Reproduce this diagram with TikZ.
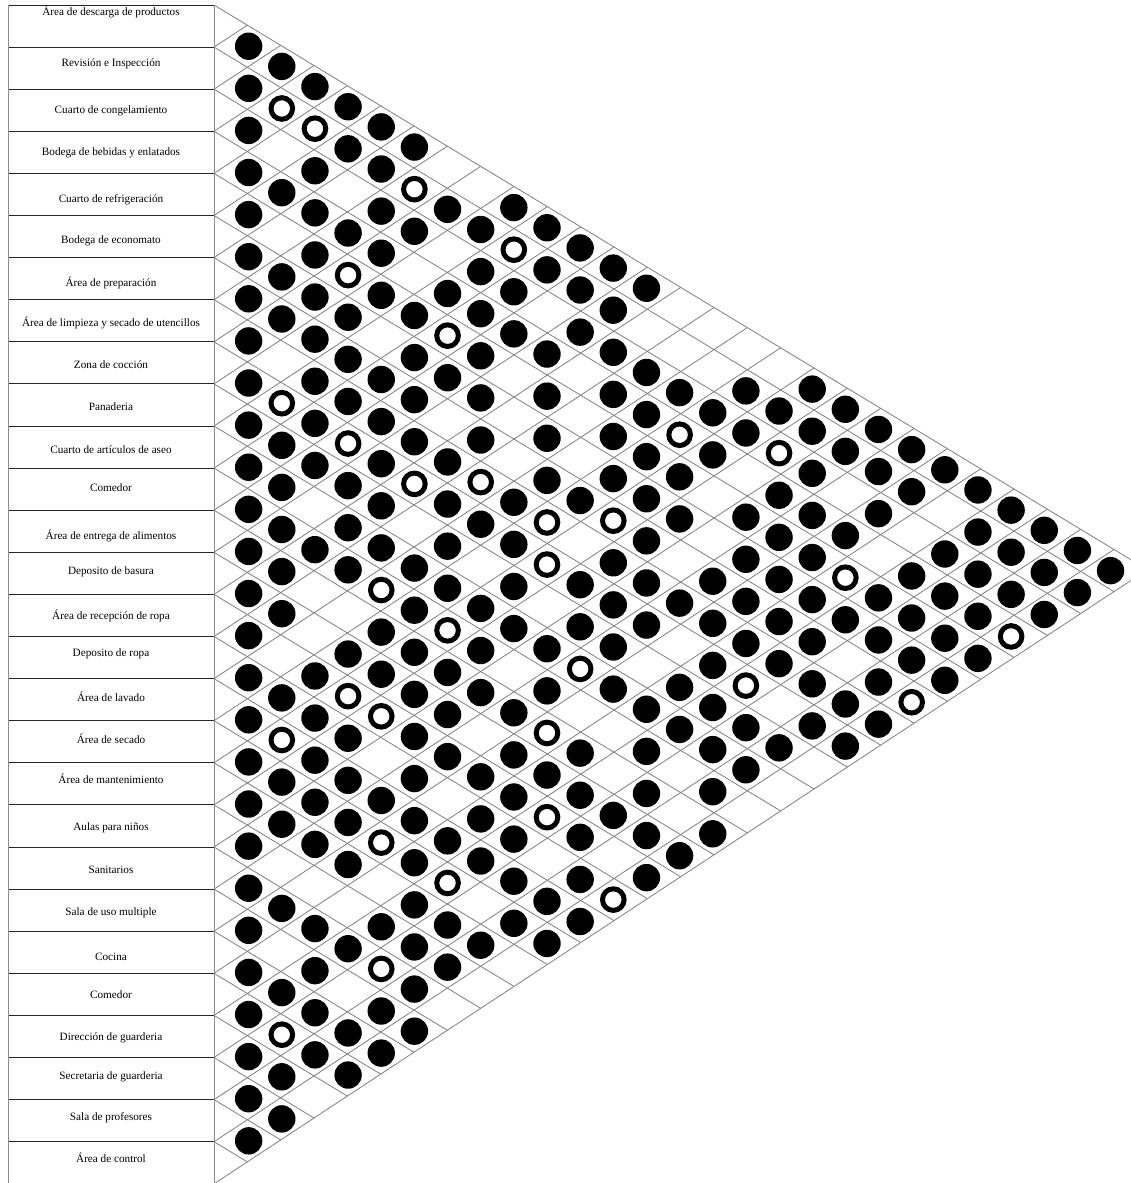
\documentclass[tikz,border=0pt]{standalone}
\usepackage{fontspec}
\setmainfont{Liberation Serif}
\begin{document}
\begin{tikzpicture}[x=1pt,y=-1pt,
  gridline/.style={draw=black!50, line width=0.8pt},
  rowline/.style={draw=black!85, line width=0.9pt},
  colline/.style={draw=black!45, line width=0.9pt},
  fullcirc/.style={circle, fill=black, minimum size=27.4pt, inner sep=0pt},
  ringcirc/.style={circle, draw=black, line width=5pt, fill=white, minimum size=21.6pt, inner sep=0pt},
  lab/.style={font=\fontsize{11.2}{13}\selectfont, inner sep=0pt, anchor=center}]
\useasboundingbox (0,0) rectangle (1131,1183);
\clip (0,0) rectangle (1131,1183);
\fill[white] (0,0) rectangle (1131,1183);
\def\pp{42.1}
\def\mA{0.605}
\def\mB{0.658}
% diagonal lattice
\foreach \k in {0,...,27} {
  \pgfmathsetmacro{\yb}{5+\pp*\k}
  \pgfmathsetmacro{\dd}{(5+28*\pp-\yb)/(\mA+\mB)}
  \draw[gridline] (214,\yb) -- ++(\dd,\mA*\dd);
}
\foreach \k in {1,...,28} {
  \pgfmathsetmacro{\yb}{5+\pp*\k}
  \pgfmathsetmacro{\dd}{(\yb-5)/(\mA+\mB)}
  \draw[gridline] (214,\yb) -- ++(\dd,-\mB*\dd);
}
% table
\foreach \k in {0,...,28} {
  \pgfmathsetmacro{\yb}{5+\pp*\k}
  \draw[rowline] (8,\yb) -- (214,\yb);
}
\draw[colline] (8,5) -- (8,1190);
\draw[colline] (214,5) -- (214,1190);
% labels
\foreach \i/\yy/\t in {
  1/12/{Área de descarga de productos},
  2/63.5/{Revisión e Inspección},
  3/111/{Cuarto de congelamiento},
  4/153/{Bodega de bebidas y enlatados},
  5/200/{Cuarto de refrigeración},
  6/241/{Bodega de economato},
  7/283/{Área de preparación},
  8/323/{Área de limpieza y secado de utencillos},
  9/365/{Zona de cocción},
  10/407/{Panaderia},
  11/450/{Cuarto de artículos de aseo},
  12/488/{Comedor},
  13/536/{Área de entrega de alimentos},
  14/571.5/{Deposito de basura},
  15/615.5/{Área de recepción de ropa},
  16/653.5/{Deposito de ropa},
  17/696.5/{Área de lavado},
  18/738.5/{Área de secado},
  19/779/{Área de mantenimiento},
  20/827.5/{Aulas para niños},
  21/869.5/{Sanitarios},
  22/913/{Sala de uso multiple},
  23/956.5/{Cocina},
  24/995/{Comedor},
  25/1038/{Dirección de guarderia},
  26/1077/{Secretaria de guarderia},
  27/1118/{Sala de profesores},
  28/1158/{Área de control}}
{
  \node[lab] (L\i) at (111,\yy) {\t};
}
% filled circles: k/{i list}
\foreach \k/\L in {
  1/{1,2,3,4,5,6,7,8,9,10,11,12,13,14,15,16,17,18,19,20,21,22,23,24,25,26,27},
  2/{1,4,6,7,10,11,12,13,14,16,18,19,21,23,25,26},
  3/{1,3,4,5,6,7,8,9,10,12,15,16,17,18,19,21,22,23,24},
  4/{1,2,4,6,7,8,10,11,12,14,16,17,18,19,21,23,24},
  5/{1,2,3,4,5,7,8,9,10,11,13,14,17,20,22,23},
  6/{1,3,5,6,7,8,11,12,13,14,15,16,17,18,19,20,21,22},
  7/{2,4,6,8,9,10,11,13,14,15,17,19,20},
  8/{2,3,4,5,6,7,9,11,12,13,15,16,17,19},
  9/{1,3,4,8,9,10,11,13,14,15,16,17,18},
  10/{1,2,4,5,6,7,11,12,14,17,18},
  11/{1,2,3,7,9,10,13,14,15,16,17},
  12/{1,2,3,4,5,6,8,9,10,11,14},
  13/{1,3,4,5,6,7,8,9,11,12,13,14,15},
  14/{3,5,6,8,10,11,14},
  15/{3,4,7,8,9,10,11,12,13},
  16/{2,3,5,6,7,8,10,11},
  17/{2,4,5,6,7,8,10},
  18/{1,2,3,4,5,6,7,8,9},
  19/{1,2,4,6,8,9},
  20/{1,2,3,5,6,7,8},
  21/{1,2,4,5,6},
  22/{1,3,4,5,6},
  23/{1,2,3,4,5},
  24/{1,2,3},
  25/{1,2,3},
  26/{1,2},
  27/{1}}
{
  \foreach \i in \L {
    \pgfmathsetmacro{\cx}{215.5+33.15*\k}
    \pgfmathsetmacro{\cy}{5+\pp*(\i-0.5)+20.17*\k}
    \node[fullcirc] (f\i-\k) at (\cx,\cy) {};
  }
}
% open circles
\foreach \k/\L in {
  2/{2,9,17,24},
  3/{2},
  4/{5,9,15},
  5/{12,15,18,21},
  6/{2,9},
  7/{5,12,18},
  8/{8},
  9/{2},
  10/{8,9,13,15},
  11/{11},
  12/{7,16},
  14/{4},
  16/{9},
  17/{3},
  19/{5},
  21/{7},
  24/{4}}
{
  \foreach \i in \L {
    \pgfmathsetmacro{\cx}{215.5+33.15*\k}
    \pgfmathsetmacro{\cy}{5+\pp*(\i-0.5)+20.17*\k}
    \node[ringcirc] (o\i-\k) at (\cx,\cy) {};
  }
}
\end{tikzpicture}
\end{document}
